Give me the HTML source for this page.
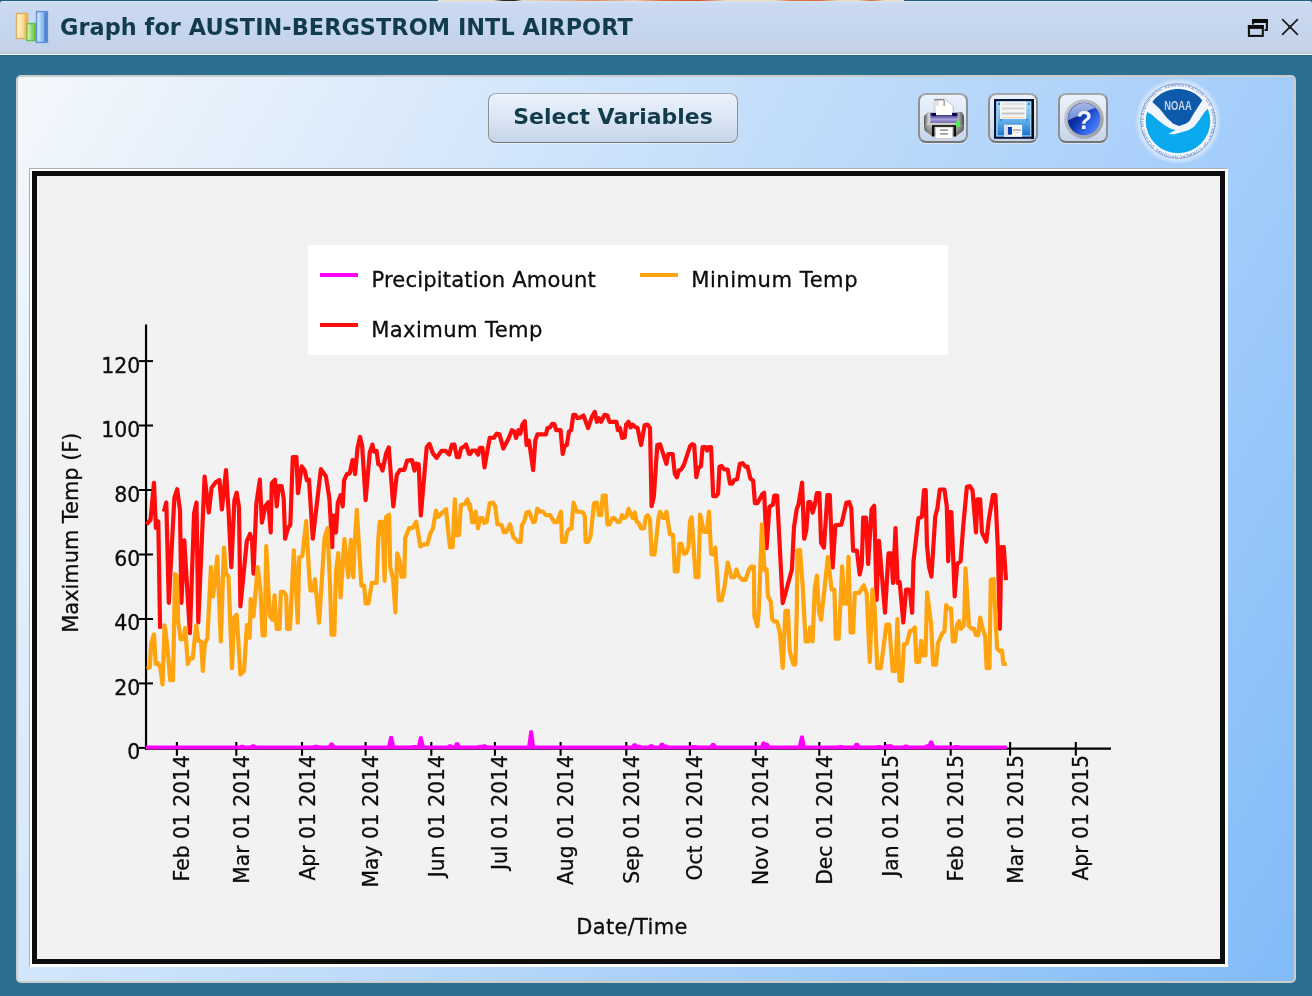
<!DOCTYPE html>
<html lang="en">
<head>
<meta charset="utf-8">
<title>Graph for AUSTIN-BERGSTROM INTL AIRPORT</title>
<style>
html,body{margin:0;padding:0;}
body{width:1312px;height:996px;overflow:hidden;background:#2b6f91;position:relative;font-family:"DejaVu Sans","Liberation Sans",sans-serif;}
#topline{position:absolute;left:0;top:0;width:1312px;height:2px;background:#22627f;}
#strip{position:absolute;left:438px;top:0;width:466px;height:1.3px;background:linear-gradient(90deg,#ecdfc2 0,#e9dcc0 12%,#2a2422 14%,#2a2422 16.5%,#e9d9b8 18%,#eab890 26%,#e58a5c 34%,#eccfa8 42%,#de6f3e 48%,#c9502a 56%,#ece0c0 62%,#ecdfc0 72%,#e0703f 76%,#dc6a3c 82%,#ebdcbc 86%,#ecdcbb 90%,#d9683a 93%,#ecdfc2 96%,#eee2c6 100%);}
#titlebar{position:absolute;left:0;top:1px;width:1312px;height:53px;border-radius:2.5px 2.5px 0 0;background:linear-gradient(180deg,#d6e2f5 0,#cbdaf0 6%,#c6d6ed 50%,#c3d2e7 96%,#b4c3d6 100%);border-bottom:1px solid #fbfcfe;box-shadow:0 1px 0 #24688c;}
#title{position:absolute;left:60px;top:12px;font-weight:bold;font-size:22.4px;line-height:30px;color:#123c4b;white-space:nowrap;letter-spacing:0.05px;}
#panel{position:absolute;left:16px;top:75px;width:1276px;height:904px;border:2px solid #cdcccc;border-radius:5px;background:linear-gradient(120deg,#f4f8fc 0,#82bbf9 100%);}
.btn{position:absolute;box-sizing:border-box;border:2px solid #909090;border-top-color:#a6a7a9;border-bottom-color:#747474;border-radius:8px;background:linear-gradient(180deg,#eaf2fc 0,#dbe6f5 50%,#c5d4e9 100%);box-shadow:0 1px 0 rgba(255,255,255,.4);}
#selbtn{border-width:1.5px;left:488px;top:93px;width:250px;height:50px;text-align:center;font-weight:bold;font-size:22px;line-height:46px;color:#123c4b;white-space:nowrap;}
#chartframe{position:absolute;left:29px;top:168px;width:1197px;height:797px;border:1px solid #fff;border-top-color:#a9b1b8;border-left-color:#a9b1b8;background:#fff;}
#chartbox{position:absolute;left:2px;top:2px;width:1183px;height:783px;border:5px solid #0d0d0d;background:#f2f2f2;}
svg{position:absolute;left:0;top:0;}
</style>
</head>
<body>
<div id="topline"></div>
<div id="strip"></div>
<div id="titlebar"></div>
<div id="title">Graph for AUSTIN-BERGSTROM INTL AIRPORT</div>
<div id="panel"></div>
<div class="btn" id="selbtn">Select Variables</div>
<div class="btn" style="left:918px;top:93px;width:50px;height:50px"></div>
<div class="btn" style="left:988px;top:93px;width:50px;height:50px"></div>
<div class="btn" style="left:1058px;top:93px;width:50px;height:50px"></div>
<div id="chartframe"><div id="chartbox"></div></div>
<svg id="ui" width="1312" height="996" viewBox="0 0 1312 996">
<defs>
<linearGradient id="gOr" x1="0" y1="0" x2="1" y2="0"><stop offset="0" stop-color="#fff7df"/><stop offset=".45" stop-color="#fde2a0"/><stop offset="1" stop-color="#f6c265"/></linearGradient>
<linearGradient id="gGr" x1="0" y1="0" x2="1" y2="0"><stop offset="0" stop-color="#e0f7cf"/><stop offset=".5" stop-color="#9bdc76"/><stop offset="1" stop-color="#5bbc33"/></linearGradient>
<linearGradient id="gBl" x1="0" y1="0" x2="1" y2="0"><stop offset="0" stop-color="#e6f2ff"/><stop offset=".45" stop-color="#9cc6f7"/><stop offset="1" stop-color="#6096e0"/></linearGradient>
<linearGradient id="gDisk" x1="0" y1="0" x2="0" y2="1"><stop offset="0" stop-color="#a5dbfb"/><stop offset=".5" stop-color="#6db6ea"/><stop offset="1" stop-color="#1b74d2"/></linearGradient>
<linearGradient id="gPrn" x1="0" y1="0" x2="1" y2="0"><stop offset="0" stop-color="#555"/><stop offset=".12" stop-color="#d4d4d4"/><stop offset=".5" stop-color="#e6e6e6"/><stop offset=".85" stop-color="#b8b8b8"/><stop offset="1" stop-color="#4a4a4a"/></linearGradient>
<linearGradient id="gPrn2" x1="0" y1="0" x2="0" y2="1"><stop offset="0" stop-color="#9a9a9a"/><stop offset="1" stop-color="#2e2e2e"/></linearGradient>
<linearGradient id="gPur" x1="0" y1="0" x2="0" y2="1"><stop offset="0" stop-color="#17175e"/><stop offset=".35" stop-color="#5d58a0"/><stop offset=".65" stop-color="#a7a2dc"/><stop offset="1" stop-color="#6f69ab"/></linearGradient>
<linearGradient id="gHelp" x1=".15" y1=".3" x2=".85" y2=".85"><stop offset="0" stop-color="#081f8e"/><stop offset=".35" stop-color="#1238b0"/><stop offset=".7" stop-color="#2f62e4"/><stop offset="1" stop-color="#4a7ffa"/></linearGradient><linearGradient id="gRing" x1="0" y1="0" x2="1" y2="1"><stop offset="0" stop-color="#c9ccd2"/><stop offset=".5" stop-color="#b3b4b8"/><stop offset="1" stop-color="#98999c"/></linearGradient>
<linearGradient id="gHelpHi" x1="0" y1="0" x2="0" y2="1"><stop offset="0" stop-color="#aebfe8"/><stop offset="1" stop-color="#6b88d6"/></linearGradient>
<radialGradient id="gGlow" cx=".5" cy=".5" r=".5"><stop offset="0" stop-color="#fff" stop-opacity=".8"/><stop offset=".86" stop-color="#fff" stop-opacity=".6"/><stop offset="1" stop-color="#fff" stop-opacity="0"/></radialGradient>
<clipPath id="cNoaa"><circle cx="1178" cy="121" r="32.3"/></clipPath>
<clipPath id="cHelp"><circle cx="1084" cy="119" r="16"/></clipPath>
</defs>
<!-- title icon -->
<g>
<rect x="16.5" y="13.5" width="11" height="25" fill="url(#gOr)" stroke="#e0ad62" stroke-width="1.5"/>
<rect x="26.8" y="23.6" width="9" height="17" fill="url(#gGr)" stroke="#6cc04a" stroke-width="1.5"/>
<rect x="36.6" y="11.6" width="10.8" height="30.8" fill="url(#gBl)" stroke="#5e93dc" stroke-width="1.5"/>
<rect x="44" y="12.5" width="3.4" height="29" fill="#4474c4" opacity=".6"/>
<rect x="24.5" y="15" width="2.6" height="22" fill="#e9a448" opacity=".45"/>
</g>
<!-- window controls -->
<g fill="none" stroke="#0a0a0a">
<path d="M1253.1 21.9 H1266.9 M1253.1 20 V24.5 M1266.9 20 V29.9 H1264.6" stroke-width="2"/>
<rect x="1252.1" y="19" width="15.8" height="3.8" fill="#0a0a0a" stroke="none"/>
<rect x="1248.9" y="26.1" width="13.9" height="9.8" stroke-width="2" fill="#c3d3ea"/>
<rect x="1247.9" y="25.1" width="15.9" height="3.8" fill="#0a0a0a" stroke="none"/>
</g>
<g stroke="#1c1c1c" stroke-width="1.7" stroke-linecap="round">
<line x1="1282.6" y1="19.7" x2="1297.4" y2="34.3"/><line x1="1297.4" y1="19.7" x2="1282.6" y2="34.3"/>
</g>
<rect x="1288.1" y="25.1" width="3.8" height="3.8" fill="#2a2a2a"/>
<!-- printer -->
<g>
<path d="M934.2 99.3 H945 L953.3 106 V115 H934.2 Z" fill="#fff" stroke="#b9b9b9" stroke-width=".8"/><rect x="934.6" y="100" width="4.2" height="14" fill="#e3e3e3"/>
<path d="M934.2 99.8 H944" stroke="#7d7d7d" stroke-width="1.2"/>
<path d="M944.2 100.2 V108.3 H952.3" fill="none" stroke="#8a8a8a" stroke-width="1.3"/>
<path d="M944.9 100.4 L952.4 107.7 H944.9 Z" fill="#fff"/>
<path d="M928 112 H962 L964 116 V128 Q964 131 960 133 L956 136.5 H932 L928 133 Q924 131 924 128 V116 Z" fill="url(#gPrn)"/>
<path d="M924.4 125 H963.6 V128 Q964 131 960 133 L956 136.3 H932 L928 133 Q924 131 924.4 128 Z" fill="url(#gPrn2)" opacity=".6"/>
<rect x="930.3" y="112.9" width="27.4" height="10" fill="url(#gPur)"/>
<rect x="936" y="106" width="16" height="9" fill="#fff"/>
<rect x="932" y="113" width="4" height="3" fill="#06064e"/><rect x="952.5" y="113" width="4" height="3" fill="#06064e"/>
<rect x="926.5" y="123.1" width="33" height="1.8" fill="#cbcbc2"/>
<rect x="932" y="125.1" width="24" height="1.9" fill="#151515"/>
<rect x="932" y="126.9" width="2.2" height="9.6" fill="#0c0c0c"/><rect x="953.8" y="126.9" width="2.2" height="9.6" fill="#0c0c0c"/>
<rect x="935.4" y="127.1" width="17.2" height="11.4" fill="#fdfdfd" stroke="#bdbdbd" stroke-width=".6"/>
<rect x="940" y="129.4" width="8" height="1.5" fill="#8c8c8c"/><rect x="940" y="133.2" width="8" height="1.5" fill="#8c8c8c"/>
<rect x="955.9" y="121.3" width="4.2" height="5.6" fill="#4fef4f"/>
</g>
<!-- save -->
<g>
<rect x="994" y="99" width="39.8" height="39.8" fill="#07153c"/>
<rect x="1031.4" y="99" width="2.4" height="39.8" fill="#05070f"/>
<rect x="996.2" y="101.2" width="35.2" height="35.4" fill="#a8defc"/>
<rect x="997.6" y="102.4" width="32.6" height="33" fill="url(#gDisk)"/>
<rect x="1000" y="101.6" width="26.2" height="17.4" fill="#f4f4f4"/>
<rect x="1002" y="103.2" width="22.4" height="1.6" fill="#dcdcdc"/>
<rect x="1002" y="107.6" width="22.4" height="1.8" fill="#cfcfcf"/>
<rect x="1002" y="112.6" width="22.4" height="1.8" fill="#c4c4c4"/>
<rect x="1002" y="116.8" width="22.4" height="1.6" fill="#f3d9bd"/>
<rect x="998.2" y="102.8" width="1.8" height="2.2" fill="#2a7de0"/><rect x="1028" y="102.8" width="1.8" height="2.2" fill="#2a7de0"/>
<rect x="1000.2" y="119" width="1.8" height="1.8" fill="#2a7de0"/><rect x="1026" y="119" width="1.8" height="1.8" fill="#2a7de0"/>
<rect x="1004.1" y="124.8" width="18" height="12" fill="#fbfbfb"/>
<rect x="1004.1" y="124.8" width="3.6" height="12" fill="#d9dff0"/>
<rect x="1007.9" y="126.9" width="4.1" height="7.8" fill="#0b3db2"/>
<rect x="1013" y="129.2" width="8" height="1.8" fill="#b5b5b5"/><rect x="1013" y="132" width="7" height="1.2" fill="#e0e0e0"/>
</g>
<!-- help -->
<g>
<circle cx="1084" cy="119" r="19.8" fill="url(#gRing)"/>
<circle cx="1084" cy="119" r="16.3" fill="url(#gHelp)"/>
<path d="M1066 121.500 Q1075 117.500 1083 113 Q1092 108 1101 107 L1101 100 L1066 100 Z" fill="url(#gHelpHi)" clip-path="url(#cHelp)"/>
<text x="1084.200" y="128.600" text-anchor="middle" font-family="Liberation Sans, DejaVu Sans, sans-serif" font-weight="bold" font-size="25.500" fill="#eef2fd">?</text>
</g>
<!-- NOAA logo -->
<g>
<circle cx="1178" cy="121" r="43.5" fill="url(#gGlow)"/>
<circle cx="1178" cy="121" r="37.9" fill="#f4f8fe"/>
<circle cx="1178" cy="121" r="37.4" fill="none" stroke="#86a2d4" stroke-width=".9"/>
<path id="noaaRing" d="M1178 155.6 A34.6 34.6 0 1 1 1178.1 155.6" fill="none"/>
<text font-family="Liberation Sans, DejaVu Sans, sans-serif" font-weight="bold" font-size="4.4" fill="#7c98cf" letter-spacing=".18"><textPath href="#noaaRing">NATIONAL OCEANIC AND ATMOSPHERIC ADMINISTRATION • U.S. DEPARTMENT OF COMMERCE •</textPath></text>
<circle cx="1178" cy="121" r="32.9" fill="#f1f6fd"/>
<g clip-path="url(#cNoaa)">
<path d="M1142.600 111.200 L1146.100 111.200 L1151.300 114.300 L1158.200 120.300 L1164.200 125.100 L1170.300 128.500 L1175.500 130.000 L1172.000 132.000 L1168.300 134.100 L1174.000 134.300 L1180.600 132.600 L1185.800 131.100 L1189.300 129.800 L1194.400 126.400 L1199.600 119.500 L1204.800 111.700 L1208.300 108.200 L1213.400 108.200 L1213.400 155.700 L1142.600 155.700 Z" fill="#0aa9ee"/>
<path d="M1152.100 101.700 L1156.500 96.600 L1162.500 92.200 L1170.300 89.700 L1177.900 88.800 L1185.800 89.700 L1193.600 92.200 L1198.800 96.100 L1202.200 100.600 L1194.400 112.500 L1189.300 121.200 L1185.800 123.800 L1178.900 125.900 L1173.300 123.800 L1166.800 117.700 L1159.900 109.100 Z" fill="#0d5aaa"/>
</g>
<text x="1178" y="110.200" text-anchor="middle" font-family="Liberation Sans, DejaVu Sans, sans-serif" font-weight="bold" font-size="12.800" fill="#c6d3ea" textLength="27.500" lengthAdjust="spacingAndGlyphs">NOAA</text>
</g>

<rect x="308" y="245" width="640" height="110" fill="#ffffff"/>
<line x1="320" y1="275" x2="358" y2="275" stroke="#ff00ff" stroke-width="4"/>
<line x1="320" y1="325" x2="358" y2="325" stroke="#ff0d0d" stroke-width="4"/>
<line x1="640" y1="275" x2="678" y2="275" stroke="#ffa40e" stroke-width="4"/>
<text x="371.5" y="287.0" font-family="DejaVu Sans, Liberation Sans, sans-serif" font-size="21.1" letter-spacing="0.15" fill="#0c0c0c" stroke="#0c0c0c" stroke-width="0.3">Precipitation Amount</text>
<text x="371.2" y="337.1" font-family="DejaVu Sans, Liberation Sans, sans-serif" font-size="21.1" letter-spacing="0.4" fill="#0c0c0c" stroke="#0c0c0c" stroke-width="0.3">Maximum Temp</text>
<text x="691.2" y="287.0" font-family="DejaVu Sans, Liberation Sans, sans-serif" font-size="21.1" letter-spacing="0.52" fill="#0c0c0c" stroke="#0c0c0c" stroke-width="0.3">Minimum Temp</text>
<line x1="146.05" y1="324.5" x2="146.05" y2="749.7" stroke="#000" stroke-width="2.2"/>
<line x1="145" y1="748.65" x2="1111" y2="748.65" stroke="#000" stroke-width="2.1"/>
<line x1="139" y1="747.9" x2="153" y2="747.9" stroke="#000" stroke-width="2"/>
<text x="140.3" y="759.4" text-anchor="end" font-family="DejaVu Sans, Liberation Sans, sans-serif" font-size="20.5" fill="#0c0c0c" stroke="#0c0c0c" stroke-width="0.3">0</text>
<line x1="139" y1="683.4" x2="153" y2="683.4" stroke="#000" stroke-width="2"/>
<text x="140.3" y="694.9" text-anchor="end" font-family="DejaVu Sans, Liberation Sans, sans-serif" font-size="20.5" fill="#0c0c0c" stroke="#0c0c0c" stroke-width="0.3">20</text>
<line x1="139" y1="619.0" x2="153" y2="619.0" stroke="#000" stroke-width="2"/>
<text x="140.3" y="630.4" text-anchor="end" font-family="DejaVu Sans, Liberation Sans, sans-serif" font-size="20.5" fill="#0c0c0c" stroke="#0c0c0c" stroke-width="0.3">40</text>
<line x1="139" y1="554.5" x2="153" y2="554.5" stroke="#000" stroke-width="2"/>
<text x="140.3" y="565.9" text-anchor="end" font-family="DejaVu Sans, Liberation Sans, sans-serif" font-size="20.5" fill="#0c0c0c" stroke="#0c0c0c" stroke-width="0.3">60</text>
<line x1="139" y1="490.0" x2="153" y2="490.0" stroke="#000" stroke-width="2"/>
<text x="140.3" y="501.5" text-anchor="end" font-family="DejaVu Sans, Liberation Sans, sans-serif" font-size="20.5" fill="#0c0c0c" stroke="#0c0c0c" stroke-width="0.3">80</text>
<line x1="139" y1="425.5" x2="153" y2="425.5" stroke="#000" stroke-width="2"/>
<text x="140.3" y="437.0" text-anchor="end" font-family="DejaVu Sans, Liberation Sans, sans-serif" font-size="20.5" fill="#0c0c0c" stroke="#0c0c0c" stroke-width="0.3">100</text>
<line x1="139" y1="361.1" x2="153" y2="361.1" stroke="#000" stroke-width="2"/>
<text x="140.3" y="372.5" text-anchor="end" font-family="DejaVu Sans, Liberation Sans, sans-serif" font-size="20.5" fill="#0c0c0c" stroke="#0c0c0c" stroke-width="0.3">120</text>
<line x1="176.9" y1="742" x2="176.9" y2="755.7" stroke="#000" stroke-width="2.1"/>
<text transform="translate(189.4 755.1) rotate(-90) scale(0.927 1)" text-anchor="end" font-family="DejaVu Sans, Liberation Sans, sans-serif" font-size="21.9" fill="#0c0c0c" stroke="#0c0c0c" stroke-width="0.3">Feb 01 2014</text>
<line x1="236.3" y1="742" x2="236.3" y2="755.7" stroke="#000" stroke-width="2.1"/>
<text transform="translate(248.8 755.1) rotate(-90) scale(0.927 1)" text-anchor="end" font-family="DejaVu Sans, Liberation Sans, sans-serif" font-size="21.9" fill="#0c0c0c" stroke="#0c0c0c" stroke-width="0.3">Mar 01 2014</text>
<line x1="302.0" y1="742" x2="302.0" y2="755.7" stroke="#000" stroke-width="2.1"/>
<text transform="translate(314.5 755.1) rotate(-90) scale(0.927 1)" text-anchor="end" font-family="DejaVu Sans, Liberation Sans, sans-serif" font-size="21.9" fill="#0c0c0c" stroke="#0c0c0c" stroke-width="0.3">Apr 01 2014</text>
<line x1="365.6" y1="742" x2="365.6" y2="755.7" stroke="#000" stroke-width="2.1"/>
<text transform="translate(378.1 755.1) rotate(-90) scale(0.927 1)" text-anchor="end" font-family="DejaVu Sans, Liberation Sans, sans-serif" font-size="21.9" fill="#0c0c0c" stroke="#0c0c0c" stroke-width="0.3">May 01 2014</text>
<line x1="431.3" y1="742" x2="431.3" y2="755.7" stroke="#000" stroke-width="2.1"/>
<text transform="translate(443.8 755.1) rotate(-90) scale(0.927 1)" text-anchor="end" font-family="DejaVu Sans, Liberation Sans, sans-serif" font-size="21.9" fill="#0c0c0c" stroke="#0c0c0c" stroke-width="0.3">Jun 01 2014</text>
<line x1="494.9" y1="742" x2="494.9" y2="755.7" stroke="#000" stroke-width="2.1"/>
<text transform="translate(507.4 755.1) rotate(-90) scale(0.927 1)" text-anchor="end" font-family="DejaVu Sans, Liberation Sans, sans-serif" font-size="21.9" fill="#0c0c0c" stroke="#0c0c0c" stroke-width="0.3">Jul 01 2014</text>
<line x1="560.6" y1="742" x2="560.6" y2="755.7" stroke="#000" stroke-width="2.1"/>
<text transform="translate(573.1 755.1) rotate(-90) scale(0.927 1)" text-anchor="end" font-family="DejaVu Sans, Liberation Sans, sans-serif" font-size="21.9" fill="#0c0c0c" stroke="#0c0c0c" stroke-width="0.3">Aug 01 2014</text>
<line x1="626.3" y1="742" x2="626.3" y2="755.7" stroke="#000" stroke-width="2.1"/>
<text transform="translate(638.8 755.1) rotate(-90) scale(0.927 1)" text-anchor="end" font-family="DejaVu Sans, Liberation Sans, sans-serif" font-size="21.9" fill="#0c0c0c" stroke="#0c0c0c" stroke-width="0.3">Sep 01 2014</text>
<line x1="689.9" y1="742" x2="689.9" y2="755.7" stroke="#000" stroke-width="2.1"/>
<text transform="translate(702.4 755.1) rotate(-90) scale(0.927 1)" text-anchor="end" font-family="DejaVu Sans, Liberation Sans, sans-serif" font-size="21.9" fill="#0c0c0c" stroke="#0c0c0c" stroke-width="0.3">Oct 01 2014</text>
<line x1="755.7" y1="742" x2="755.7" y2="755.7" stroke="#000" stroke-width="2.1"/>
<text transform="translate(768.2 755.1) rotate(-90) scale(0.927 1)" text-anchor="end" font-family="DejaVu Sans, Liberation Sans, sans-serif" font-size="21.9" fill="#0c0c0c" stroke="#0c0c0c" stroke-width="0.3">Nov 01 2014</text>
<line x1="819.3" y1="742" x2="819.3" y2="755.7" stroke="#000" stroke-width="2.1"/>
<text transform="translate(831.8 755.1) rotate(-90) scale(0.927 1)" text-anchor="end" font-family="DejaVu Sans, Liberation Sans, sans-serif" font-size="21.9" fill="#0c0c0c" stroke="#0c0c0c" stroke-width="0.3">Dec 01 2014</text>
<line x1="885.0" y1="742" x2="885.0" y2="755.7" stroke="#000" stroke-width="2.1"/>
<text transform="translate(897.5 755.1) rotate(-90) scale(0.927 1)" text-anchor="end" font-family="DejaVu Sans, Liberation Sans, sans-serif" font-size="21.9" fill="#0c0c0c" stroke="#0c0c0c" stroke-width="0.3">Jan 01 2015</text>
<line x1="950.7" y1="742" x2="950.7" y2="755.7" stroke="#000" stroke-width="2.1"/>
<text transform="translate(963.2 755.1) rotate(-90) scale(0.927 1)" text-anchor="end" font-family="DejaVu Sans, Liberation Sans, sans-serif" font-size="21.9" fill="#0c0c0c" stroke="#0c0c0c" stroke-width="0.3">Feb 01 2015</text>
<line x1="1010.1" y1="742" x2="1010.1" y2="755.7" stroke="#000" stroke-width="2.1"/>
<text transform="translate(1022.6 755.1) rotate(-90) scale(0.927 1)" text-anchor="end" font-family="DejaVu Sans, Liberation Sans, sans-serif" font-size="21.9" fill="#0c0c0c" stroke="#0c0c0c" stroke-width="0.3">Mar 01 2015</text>
<line x1="1075.8" y1="742" x2="1075.8" y2="755.7" stroke="#000" stroke-width="2.1"/>
<text transform="translate(1088.3 755.1) rotate(-90) scale(0.927 1)" text-anchor="end" font-family="DejaVu Sans, Liberation Sans, sans-serif" font-size="21.9" fill="#0c0c0c" stroke="#0c0c0c" stroke-width="0.3">Apr 01 2015</text>
<path d="M146.6 524.3 L150.5 519.8 L154.0 482.8 L155.9 527.8 L158.3 521.5 L160.1 628.8 M163.9 511.6 L166.3 502.5 L168.8 602.8 L174.4 497.6 L177.2 489.2 L180.0 510.2 L181.4 602.8 L184.3 540.4 L189.9 633.1 L194.1 513.1 L196.5 502.5 L198.3 622.5 L204.6 476.5 L208.8 512.4 L211.6 487.8 L215.9 482.1 L219.4 480.0 L221.9 509.5 L226.0 470.2 L228.5 510.2 L231.3 567.1 L234.4 500.4 L236.7 492.7 L239.0 507.4 L240.4 606.4 L246.8 541.2 L250.0 534.1 L250.0 533.8 L252.1 540.8 L253.5 573.6 L256.3 504.3 L259.8 479.7 L261.9 522.6 L265.5 505.7 L268.3 502.2 L270.7 532.4 L271.8 483.2 L275.0 479.7 L276.7 506.4 L278.8 486.0 L281.6 486.0 L283.7 498.7 L285.1 538.7 L287.9 528.2 L290.3 524.7 L292.8 457.2 L296.4 457.2 L298.0 493.1 L301.7 466.4 L304.8 470.6 L306.9 480.4 L309.0 479.7 L312.8 538.7 L320.9 469.2 L325.9 476.2 L329.4 498.7 L332.2 547.1 L332.9 515.5 L334.3 515.5 L336.0 532.4 L337.8 502.9 L340.6 495.2 L342.7 506.4 L344.1 480.4 L346.9 474.1 L349.7 473.4 L352.6 460.0 L355.1 474.1 L357.5 448.1 L360.0 436.9 L362.1 445.3 L365.6 500.1 L369.8 452.3 L372.4 444.6 L374.0 451.6 L376.6 450.9 L378.3 464.3 L380.4 465.0 L382.5 470.6 L386.0 453.7 L388.8 447.4 L393.3 506.4 L396.8 474.8 L400.0 469.9 L404.3 469.9 L407.1 460.7 L412.0 460.0 L414.5 470.6 L416.2 463.6 L418.7 464.3 L420.8 515.5 L426.7 447.4 L429.5 443.9 L433.1 453.7 L436.6 457.9 L441.5 450.9 L445.7 450.9 L449.2 454.4 L452.0 444.6 L454.4 444.6 L456.9 457.2 L459.0 457.2 L461.2 448.1 L464.0 446.7 L466.1 444.6 L468.9 453.7 L470.0 454.1 L472.1 450.6 L475.6 450.6 L478.1 454.8 L479.8 447.8 L482.4 447.8 L484.5 467.4 L489.7 437.9 L493.9 437.7 L496.7 433.7 L499.5 434.4 L503.3 448.5 L508.6 438.6 L511.9 430.2 L514.3 431.6 L516.1 437.9 L518.5 430.2 L520.3 433.7 L522.3 424.6 L524.8 421.1 L526.6 445.0 L529.0 440.7 L533.2 470.2 L535.3 440.7 L537.4 434.4 L545.9 434.4 L547.5 428.1 L550.1 427.4 L552.2 423.9 L554.3 424.2 L556.4 430.2 L560.6 430.2 L562.7 454.1 L564.8 445.7 L566.9 445.0 L569.0 431.6 L571.2 430.2 L573.3 414.8 L575.4 414.8 L577.5 418.0 L580.0 417.6 L583.5 415.5 L588.1 428.1 L591.9 416.9 L594.8 411.9 L596.9 421.8 L599.0 418.3 L601.1 421.8 L604.6 414.8 L607.4 415.5 L609.5 421.8 L616.5 421.8 L617.9 430.2 L620.0 428.1 L622.1 437.9 L624.7 437.2 L626.1 424.6 L628.5 421.8 L630.6 427.4 L632.7 424.6 L634.8 426.7 L637.6 428.1 L641.1 445.0 L644.6 425.3 L647.4 424.6 L650.0 428.1 L651.6 506.1 L653.8 496.9 L657.3 445.0 L660.1 444.3 L666.4 463.9 L668.2 454.1 L672.7 454.1 L674.8 473.8 L676.9 477.3 L679.0 470.2 L681.2 469.5 L684.0 464.6 L690.0 446.4 L690.0 446.3 L692.1 444.2 L694.2 444.9 L696.3 477.2 L698.4 468.1 L701.0 466.0 L702.6 447.0 L705.5 447.0 L707.1 450.5 L709.0 447.0 L711.1 447.0 L713.2 496.2 L716.0 496.2 L718.1 493.4 L719.5 466.7 L721.6 466.0 L724.4 469.5 L727.7 469.5 L730.0 483.6 L732.1 483.6 L734.3 480.0 L737.1 479.3 L739.9 463.9 L742.7 463.2 L745.5 466.7 L747.6 466.7 L750.4 478.6 L753.2 480.7 L754.9 503.2 L757.4 503.2 L762.4 494.1 L764.2 492.7 L766.6 548.2 L769.4 506.7 L772.9 504.6 L774.3 495.5 L777.1 495.5 L782.7 603.2 L791.9 569.5 L794.0 527.1 L796.8 508.8 L798.5 504.6 L802.1 482.5 L804.2 538.7 L806.3 530.2 L808.4 502.1 L810.5 502.1 L812.6 512.7 L814.8 505.0 L816.9 493.0 L819.4 493.0 L821.1 542.9 L823.9 547.8 L827.4 495.1 L829.8 495.1 L832.6 567.5 L835.4 525.3 L841.4 524.6 L846.4 502.8 L849.2 502.1 L851.3 508.5 L853.1 550.6 L856.9 550.6 L859.7 574.5 L861.8 564.0 L863.2 517.6 L866.0 517.6 L868.1 564.0 L871.6 509.2 L874.2 505.7 L876.6 600.0 L879.0 540.8 L885.0 612.7 L888.5 553.4 L891.3 553.4 L893.0 582.9 L895.5 528.1 L897.6 582.9 L899.7 582.2 L903.3 622.5 L906.1 589.5 L908.9 589.5 L910.0 591.4 L912.1 612.7 L913.5 561.2 L918.4 518.3 L921.9 516.9 L924.0 490.2 L925.7 490.2 L926.9 544.3 L929.0 566.8 L931.4 576.6 L935.3 516.2 L937.4 508.5 L939.8 489.5 L944.4 489.5 L946.8 506.4 L948.2 561.2 L950.0 512.0 L951.4 512.0 L954.7 596.3 L957.1 564.0 L960.6 561.2 L963.1 527.4 L966.9 486.7 L969.7 486.0 L972.5 490.2 L976.0 532.4 L977.4 499.3 L980.2 499.3 L981.9 532.4 L986.3 541.5 L988.7 520.4 L992.9 495.1 L995.4 495.1 L997.8 547.1 L999.9 628.8 L1001.3 547.1 L1003.8 547.1 L1006.0 580.1" fill="none" stroke="#ff0c0c" stroke-width="4.2" stroke-linejoin="round" stroke-linecap="butt"/>
<path d="M146.6 668.2 L149.8 667.5 L151.2 642.9 L154.0 634.5 L155.7 664.0 L158.3 663.3 L160.4 668.2 L162.5 684.3 L164.6 625.3 L167.4 647.1 L170.2 680.1 L173.0 680.1 L175.1 574.0 L176.8 575.5 L178.2 621.8 L180.7 639.4 L183.6 638.7 L185.2 628.1 L187.8 664.0 L189.9 658.3 L192.7 658.3 L196.2 625.3 L198.3 640.8 L201.1 641.5 L202.8 671.0 L204.9 642.9 L207.4 638.7 L210.9 567.0 L213.1 596.5 L217.3 556.6 L220.8 641.5 L224.0 547.5 L226.0 574.0 L228.5 576.2 L232.0 668.2 L234.1 617.6 L236.7 614.8 L240.4 674.5 L244.0 671.0 L246.9 625.2 L249.7 637.8 L250.7 599.2 L253.5 616.4 L257.7 567.2 L260.5 590.4 L262.6 635.4 L264.8 635.4 L266.2 546.2 L269.7 615.7 L272.5 619.9 L274.6 595.3 L276.7 629.0 L279.5 629.0 L280.9 591.8 L283.7 591.8 L286.2 596.0 L287.2 629.0 L290.0 629.0 L293.8 550.4 L297.8 622.7 L299.2 557.4 L302.3 556.0 L306.2 521.2 L309.0 572.1 L310.4 590.4 L313.2 590.4 L314.9 579.2 L319.1 622.7 L324.5 538.4 L327.5 528.2 L330.1 586.2 L331.5 634.7 L334.3 634.7 L336.0 572.1 L338.2 553.2 L340.6 597.4 L344.4 539.1 L348.3 577.1 L350.9 539.8 L353.3 577.1 L354.7 544.0 L356.8 509.9 L361.4 585.7 L364.2 585.7 L365.6 603.3 L368.4 603.3 L371.9 582.9 L376.6 582.9 L378.3 539.3 L379.7 521.8 L382.5 521.8 L384.6 580.8 L386.0 516.9 L389.2 514.8 L390.2 567.4 L393.0 578.7 L395.4 612.4 L397.2 553.4 L400.0 561.8 L401.4 576.6 L404.3 576.6 L405.2 537.9 L409.2 528.1 L412.7 528.1 L416.2 521.8 L420.4 546.4 L423.9 544.3 L427.4 544.3 L430.2 533.7 L433.1 528.1 L435.9 510.5 L438.0 516.9 L442.9 512.0 L446.0 509.2 L449.9 547.1 L452.7 547.1 L454.8 499.4 L456.7 535.2 L459.0 535.2 L460.9 505.0 L464.7 504.3 L467.5 499.4 L470.0 509.9 L470.0 504.0 L472.1 522.2 L474.2 522.2 L475.6 511.7 L478.1 528.5 L479.8 518.0 L482.4 518.0 L484.0 522.9 L486.6 522.2 L489.7 503.3 L493.2 502.6 L495.3 506.8 L497.4 524.3 L501.6 525.0 L503.7 532.1 L506.2 532.1 L510.0 524.3 L513.6 537.7 L515.7 539.0 L517.8 541.8 L520.6 541.8 L522.0 525.0 L524.1 521.5 L526.6 512.4 L529.0 511.7 L533.2 522.2 L534.9 521.5 L537.2 508.9 L540.2 511.7 L543.1 511.7 L545.9 515.2 L550.1 515.2 L554.3 522.2 L557.1 522.2 L560.9 511.7 L562.0 541.8 L565.5 541.8 L566.9 532.7 L569.0 529.2 L571.4 528.5 L573.5 502.6 L576.8 511.7 L580.0 511.7 L582.8 512.4 L584.9 516.6 L585.6 541.8 L588.4 541.8 L590.5 536.2 L594.0 503.3 L596.9 502.6 L599.0 515.2 L601.1 515.2 L602.8 495.5 L605.6 495.5 L607.4 524.3 L609.5 524.3 L612.3 518.0 L614.4 518.0 L617.9 522.2 L620.0 521.5 L622.1 515.2 L624.3 518.0 L626.4 516.6 L628.5 508.9 L632.7 518.0 L634.8 512.4 L636.6 521.5 L639.0 523.6 L641.1 528.5 L643.9 528.5 L646.0 516.6 L647.7 515.2 L650.0 519.4 L651.6 554.5 L654.5 554.5 L658.7 516.5 L660.1 511.7 L662.9 518.0 L664.3 518.0 L666.4 511.7 L669.9 534.1 L673.0 534.8 L674.8 571.3 L677.6 571.3 L679.5 543.9 L681.4 543.9 L684.0 553.8 L686.1 553.1 L688.5 547.4 L690.0 520.6 L691.7 517.3 L695.6 577.2 L698.4 577.2 L700.1 514.5 L704.0 532.0 L706.9 532.0 L709.0 511.6 L711.1 553.8 L713.2 554.5 L715.3 547.5 L718.8 600.4 L721.6 600.4 L724.4 587.8 L727.7 562.5 L731.4 577.2 L734.3 577.2 L736.4 569.5 L738.5 575.8 L742.7 580.0 L745.5 580.0 L749.0 569.5 L751.1 566.7 L753.9 566.7 L754.3 615.9 L757.4 626.4 L758.8 610.2 L761.9 524.3 L764.5 570.2 L766.6 569.5 L768.0 596.2 L770.8 601.8 L772.2 619.4 L774.3 621.5 L777.1 621.5 L779.9 632.7 L782.7 667.8 L785.5 610.9 L787.9 610.9 L789.7 651.0 L793.3 664.3 L795.4 664.3 L796.8 610.2 L797.5 550.5 L800.0 549.8 L802.8 588.1 L805.6 641.5 L808.4 641.5 L810.1 627.4 L812.6 641.5 L814.8 588.1 L816.9 575.5 L819.0 612.0 L821.1 619.7 L824.6 588.1 L827.8 556.9 L831.6 589.5 L834.4 589.5 L835.8 638.7 L838.6 638.7 L840.7 599.3 L842.1 566.3 L844.3 603.6 L847.1 603.6 L848.5 556.9 L850.6 632.4 L853.1 632.4 L854.8 593.0 L859.0 593.0 L863.9 585.3 L866.7 593.7 L869.8 661.9 L872.4 589.5 L874.5 606.4 L877.3 668.2 L880.8 668.2 L886.4 624.6 L889.2 624.6 L892.7 671.0 L895.5 671.0 L897.4 619.0 L899.5 680.8 L901.9 680.8 L904.0 644.3 L906.8 643.6 L910.0 630.9 L910.0 632.4 L914.9 627.4 L916.3 661.9 L919.1 661.9 L921.2 640.8 L922.6 655.5 L925.5 655.5 L927.1 592.3 L931.1 624.6 L933.2 664.7 L936.0 664.7 L938.1 642.9 L942.3 633.1 L944.4 631.6 L946.2 605.0 L948.6 608.5 L951.0 608.5 L952.8 641.5 L955.0 641.5 L957.1 624.6 L959.2 621.1 L960.9 628.8 L964.1 625.3 L965.5 568.4 L969.0 626.0 L971.8 628.8 L973.9 628.8 L976.0 635.2 L978.1 635.2 L980.2 617.6 L983.1 630.2 L985.2 635.9 L986.6 668.2 L989.4 668.2 L990.8 579.7 L993.6 579.0 L997.1 648.5 L999.9 651.3 L1002.0 650.6 L1003.4 664.0 L1006.7 664.0" fill="none" stroke="#ffa40e" stroke-width="4.2" stroke-linejoin="round" stroke-linecap="butt"/>
<path d="M239.7 746.5 L241.1 745.5 L243.3 745.5 L244.7 746.5 Z M250.4 746.5 L252.1 745.1 L254.3 745.1 L255.9 746.5 Z M312.9 746.5 L314.9 745.5 L317.1 745.5 L319.1 746.5 Z M328.6 746.5 L330.5 743.3 L332.7 743.3 L334.6 746.5 Z M387.9 746.5 L390.0 736.7 L392.2 736.7 L394.4 746.5 Z M412.0 746.5 L413.4 745.7 L415.6 745.7 L417.0 746.5 Z M417.6 746.5 L419.7 737.1 L421.9 737.1 L424.1 746.5 Z M447.4 746.5 L449.0 745.1 L451.2 745.1 L452.9 746.5 Z M454.0 746.5 L455.9 742.9 L458.1 742.9 L460.0 746.5 Z M477.2 746.5 L479.9 745.5 L482.1 745.5 L484.8 746.5 Z M482.0 746.5 L483.4 745.1 L485.6 745.1 L487.0 746.5 Z M527.9 746.5 L530.0 731.1 L532.2 731.1 L534.4 746.5 Z M631.7 746.5 L633.6 744.0 L635.8 744.0 L637.7 746.5 Z M636.5 746.5 L637.9 745.5 L640.1 745.5 L641.5 746.5 Z M648.6 746.5 L650.3 744.9 L652.5 744.9 L654.1 746.5 Z M659.1 746.5 L661.0 743.4 L663.2 743.4 L665.1 746.5 Z M662.8 746.5 L664.4 745.3 L666.6 745.3 L668.2 746.5 Z M691.6 746.5 L693.0 745.7 L695.2 745.7 L696.6 746.5 Z M710.1 746.5 L712.0 743.8 L714.2 743.8 L716.1 746.5 Z M760.9 746.5 L762.5 742.3 L764.7 742.3 L766.4 746.5 Z M763.6 746.5 L765.5 743.5 L767.7 743.5 L769.6 746.5 Z M798.6 746.5 L800.8 736.3 L803.0 736.3 L805.1 746.5 Z M838.2 746.5 L839.6 745.7 L841.8 745.7 L843.2 746.5 Z M853.7 746.5 L855.6 743.4 L857.8 743.4 L859.7 746.5 Z M876.4 746.5 L877.8 745.7 L880.0 745.7 L881.4 746.5 Z M884.5 746.5 L886.4 745.1 L888.6 745.1 L890.5 746.5 Z M887.5 746.5 L889.4 745.1 L891.6 745.1 L893.5 746.5 Z M903.0 746.5 L904.6 745.3 L906.8 745.3 L908.5 746.5 Z M924.4 746.5 L926.4 745.1 L928.6 745.1 L930.6 746.5 Z M927.9 746.5 L930.0 741.2 L932.2 741.2 L934.4 746.5 Z M954.2 746.5 L955.6 745.7 L957.8 745.7 L959.2 746.5 Z" fill="#ff00ff" stroke="#ff00ff" stroke-width="1.5" stroke-linejoin="round"/>
<line x1="146" y1="747.4" x2="1006.8" y2="747.4" stroke="#ff00ff" stroke-width="3.6"/>
<text transform="translate(77.7 532.6) rotate(-90) scale(0.954 1)" text-anchor="middle" font-family="DejaVu Sans, Liberation Sans, sans-serif" font-size="21.9" fill="#0c0c0c" stroke="#0c0c0c" stroke-width="0.3">Maximum Temp (F)</text>
<text x="632" y="933.5" text-anchor="middle" font-family="DejaVu Sans, Liberation Sans, sans-serif" font-size="21" letter-spacing="0.3" fill="#0c0c0c" stroke="#0c0c0c" stroke-width="0.3">Date/Time</text>
</svg>
</body>
</html>
